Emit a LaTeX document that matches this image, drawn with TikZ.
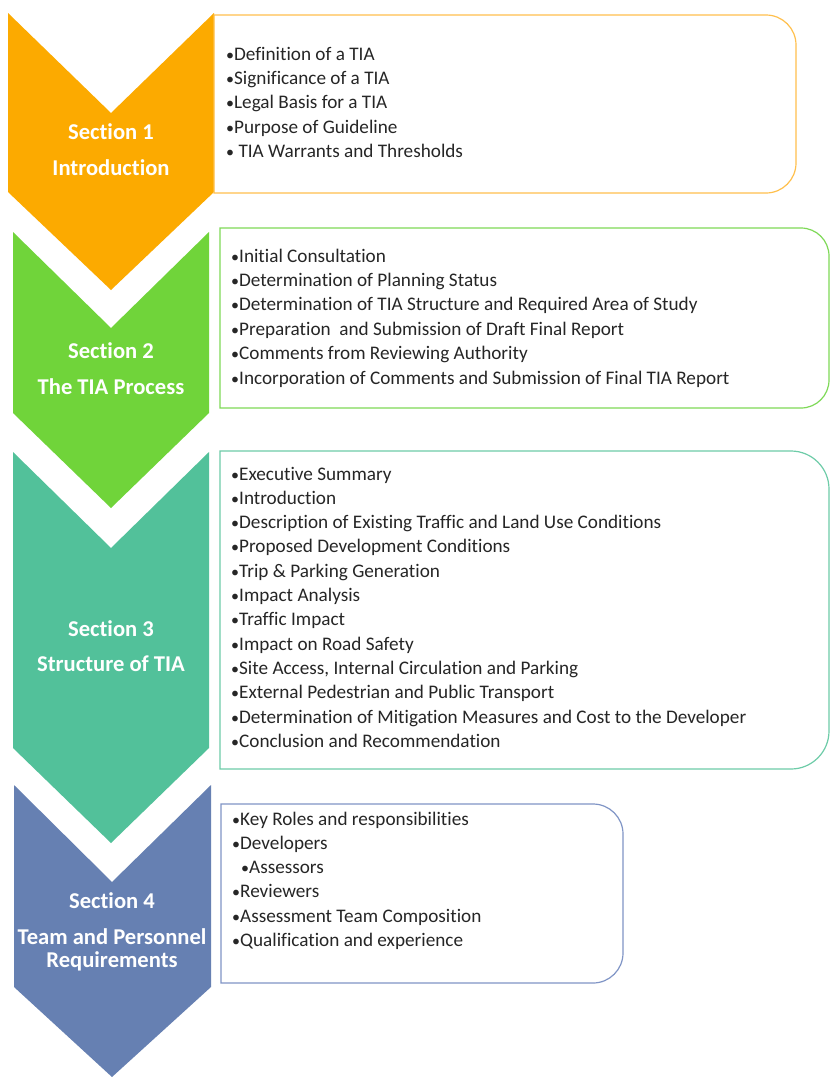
\documentclass[tikz,border=0pt]{standalone}
\usepackage{fontspec}
\setmainfont{Carlito}[Ligatures=NoCommon]
\definecolor{c1}{RGB}{252,170,0}
\definecolor{c2}{RGB}{112,212,58}
\definecolor{c3}{RGB}{82,193,154}
\definecolor{c4}{RGB}{102,128,178}
\definecolor{b1}{RGB}{255,192,77}
\definecolor{b2}{RGB}{126,217,87}
\definecolor{b3}{RGB}{110,204,168}
\definecolor{b4}{RGB}{128,149,198}
\definecolor{txt}{RGB}{38,38,38}
\tikzset{
  sectitle/.style={font=\fontsize{22.6}{24}\selectfont\bfseries, text=white, anchor=base, inner sep=0pt},
  item/.style={font=\fontsize{19.2}{23}\selectfont, text=txt, anchor=base west, inner sep=0pt},
  boxline/.style={line width=1.2pt}
}
\newcommand{\rbox}[6]{% color, L, T, R, B, r
  \draw[boxline,#1] (#2,#3) -- ({#4-#6},#3) arc[start angle=90,end angle=0,radius=#6 pt]
    -- (#4,{#5-#6}) arc[start angle=0,end angle=-90,radius=#6 pt] -- (#2,#5) -- cycle;}
\newcommand{\bul}{{\fontsize{16}{16}\selectfont\textbullet}}
\begin{document}
\begin{tikzpicture}[x=1pt,y=-1pt]
\useasboundingbox (0,0) rectangle (830,1077);
\fill[white] (0,0) rectangle (830,1077);
% chevrons
\fill[c1] (8,13) -- (111,113) -- (214,13) -- (214,192) -- (111,290) -- (8,192) -- cycle;
\fill[c2] (13,232) -- (111,328) -- (209,232) -- (209,413) -- (111,508) -- (13,413) -- cycle;
\fill[c3] (13,452) -- (111,548) -- (209,452) -- (209,748) -- (111,843) -- (13,748) -- cycle;
\fill[c4] (14,785) -- (112,882) -- (211,785) -- (211,987) -- (112,1077) -- (14,987) -- cycle;
% section titles
\node[sectitle] (s1a) at (111,139) {Section 1};
\node[sectitle] (s1b) at (111,175) {Introduction};
\node[sectitle] (s2a) at (111,358) {Section 2};
\node[sectitle] (s2b) at (111,394) {The TIA Process};
\node[sectitle] (s3a) at (111,636) {Section 3};
\node[sectitle] (s3b) at (111,671) {Structure of TIA};
\node[sectitle] (s4a) at (112,908) {Section 4};
\node[sectitle] (s4b) at (112,944) {Team and Personnel};
\node[sectitle] (s4c) at (112,967) {Requirements};
% boxes
\rbox{b1}{214}{15}{796}{193}{30}
\rbox{b2}{220}{228}{829}{408}{28}
\rbox{b3}{220}{451}{829}{769}{38}
\rbox{b4}{221}{804}{623}{983}{30}
% box 1 items
\foreach \t [count=\i] in {{Definition of a TIA},{Significance of a TIA},{Legal Basis for a TIA},{Purpose of Guideline},{ TIA Warrants and Thresholds}}
  \node[item] (i1-\i) at (226,{60+(\i-1)*24.4}) {\bul\t};
% box 2 items
\foreach \t [count=\i] in {{Initial Consultation},{Determination of Planning Status},{Determination of TIA Structure and Required Area of Study},{Preparation\ \ and Submission of Draft Final Report},{Comments from Reviewing Authority},{Incorporation of Comments and Submission of Final TIA Report}}
  \node[item] (i2-\i) at (231,{262+(\i-1)*24.45}) {\bul\t};
% box 3 items
\foreach \t [count=\i] in {{Executive Summary},{Introduction},{Description of Existing Traffic and Land Use Conditions},{Proposed Development Conditions},{Trip \& Parking Generation},{Impact Analysis},{Traffic Impact},{Impact on Road Safety},{Site Access, Internal Circulation and Parking},{External Pedestrian and Public Transport},{Determination of Mitigation Measures and Cost to the Developer},{Conclusion and Recommendation}}
  \node[item] (i3-\i) at (231,{480+(\i-1)*24.3}) {\bul\t};
% box 4 items
\node[item] (i4-1) at (232,825) {\bul Key Roles and responsibilities};
\node[item] (i4-2) at (232,849.3) {\bul Developers};
\node[item] (i4-3) at (241,873.6) {\bul Assessors};
\node[item] (i4-4) at (232,897.9) {\bul Reviewers};
\node[item] (i4-5) at (232,922.2) {\bul Assessment Team Composition};
\node[item] (i4-6) at (232,946.5) {\bul Qualification and experience};
\end{tikzpicture}
\end{document}
